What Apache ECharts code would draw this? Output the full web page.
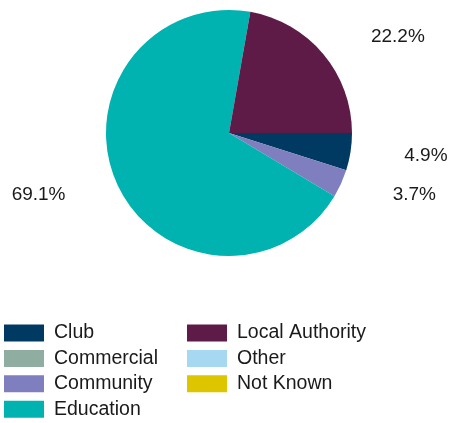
<!DOCTYPE html>
<html>
<head>
<meta charset="utf-8">
<script src="https://cdn.jsdelivr.net/npm/echarts@6/dist/echarts.min.js"></script>
<style>
  html, body { margin: 0; padding: 0; background: #fff; }
  #main { width: 449px; height: 423px; }
</style>
</head>
<body>
<div id="main"></div>
<script>
  // categories and their shares (%)
  const categories = ['Club', 'Commercial', 'Community', 'Education', 'Local Authority', 'Other', 'Not Known']
  const shares = [4.9, 0, 3.7, 69.1, 22.2, 0, 0]
  const colors = ['#003a63', '#8fada1', '#7f7fbf', '#00b2b0', '#5f1b48', '#a7d8f2', '#ddc600']
  const legendLeft = ['Club', 'Commercial', 'Community', 'Education']
  const legendRight = ['Local Authority', 'Other', 'Not Known']

  const myChart = echarts.init(document.getElementById('main'))

  const pieData = categories.map((name, i) => ({
    name: name,
    value: shares[i],
    itemStyle: { color: colors[i] },
    label: { show: shares[i] > 0 }
  }))

  const legendBase = {
    orient: 'vertical',
    top: 323,
    height: 120,
    padding: 0,
    itemWidth: 40,
    itemHeight: 17,
    itemGap: 5.4,
    icon: 'rect',
    selectedMode: false,
    textStyle: {
      fontFamily: 'Liberation Sans',
      fontSize: 19.5,
      color: '#1a1a1a',
      padding: [0, 0, 0, 5]
    }
  }

  const option = {
    animation: false,
    color: colors,
    legend: [
      Object.assign({}, legendBase, { left: 4, data: legendLeft }),
      Object.assign({}, legendBase, { left: 187, data: legendRight })
    ],
    series: [
      {
        type: 'pie',
        center: [229, 133],
        radius: 123,
        startAngle: 0,
        clockwise: true,
        stillShowZeroSum: true,
        avoidLabelOverlap: false,
        data: pieData,
        label: {
          position: 'outside',
          formatter: (p) => p.value.toFixed(1) + '%',
          fontFamily: 'Liberation Sans',
          fontSize: 19,
          color: '#1a1a1a'
        },
        labelLine: {
          show: false,
          length: 27,
          length2: 22
        },
        emphasis: { disabled: true }
      }
    ]
  }

  myChart.setOption(option)
</script>
</body>
</html>
